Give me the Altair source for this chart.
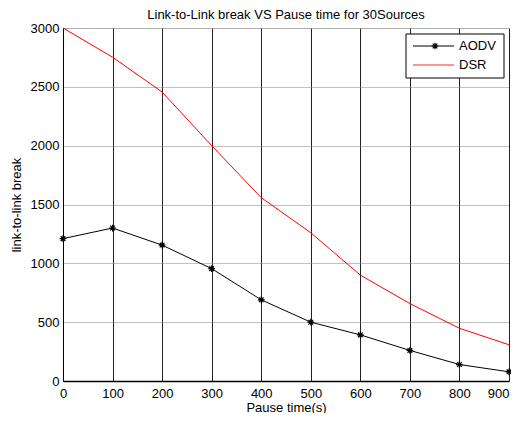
import altair as alt
import pandas as pd

pause = [0, 100, 200, 300, 400, 500, 600, 700, 800, 900]
aodv = [1210, 1300, 1155, 955, 690, 500, 392, 260, 140, 78]
dsr = [3000, 2752, 2456, 2000, 1558, 1260, 900, 658, 448, 308]
series_names = ["AODV", "DSR"]
series_colors = ["#000000", "#ff0000"]
x_ticks = [0, 100, 200, 300, 400, 500, 600, 700, 800, 900]
y_ticks = [0, 500, 1000, 1500, 2000, 2500, 3000]

df = pd.DataFrame({
    "pause": pause + pause,
    "value": aodv + dsr,
    "series": ["AODV"] * len(pause) + ["DSR"] * len(pause),
})

FONT = "Liberation Sans"
ASTER = "M-1,0L1,0M0,-1L0,1M-0.7,-0.7L0.7,0.7M-0.7,0.7L0.7,-0.7"

x_enc = alt.X(
    "pause:Q",
    scale=alt.Scale(domain=[0, 900], nice=False, zero=False),
    axis=alt.Axis(
        values=x_ticks, format="d", title="Pause time(s)", grid=True, gridColor="#222222",
        gridOpacity=1, gridWidth=1, tickSize=0, labelPadding=6, titlePadding=1,
        domainColor="#000000", domainWidth=1.5, labelFont=FONT, labelFontSize=13,
        labelColor="#000000", titleFont=FONT, titleFontSize=13, titleFontWeight="normal",
        titleColor="#000000", labelFlush=False,
        labelAlign=alt.expr("datum.value == 900 ? 'right' : 'center'"),
    ),
)
y_enc = alt.Y(
    "value:Q",
    scale=alt.Scale(domain=[0, 3000], nice=False),
    axis=alt.Axis(
        values=y_ticks, format="d", title="link-to-link break", grid=True, gridColor="#808080",
        gridOpacity=1, gridDash=[1, 1], gridWidth=1, tickSize=0, labelPadding=4,
        titlePadding=7, domainColor="#000000", domainWidth=1, labelFont=FONT,
        labelFontSize=13, labelColor="#000000", titleFont=FONT, titleFontSize=13,
        titleFontWeight="normal", titleColor="#000000", labelFlush=False,
    ),
)
color = alt.Color("series:N", scale=alt.Scale(domain=series_names, range=series_colors), legend=None)

lines = alt.Chart(df).mark_line(strokeWidth=1).encode(
    x=x_enc, y=y_enc, color=color, detail="series:N"
)
points = alt.Chart(df[df.series == "AODV"]).mark_point(
    shape=ASTER, size=45, filled=False, color="#000000", strokeWidth=1.2, opacity=1
).encode(x="pause:Q", y="value:Q")

# legend box
leg_box = alt.Chart(df.head(1)).mark_rect(fill="white", stroke="black", strokeWidth=1).encode(
    x=alt.value(343), x2=alt.value(441), y=alt.value(6), y2=alt.value(50)
)
leg_l1 = alt.Chart(df.head(1)).mark_rule(color="#000000", strokeWidth=1).encode(
    x=alt.value(350), x2=alt.value(391), y=alt.value(18)
)
leg_p1 = alt.Chart(df.head(1)).mark_point(
    shape=ASTER, size=45, filled=False, color="#000000", strokeWidth=1.2, opacity=1
).encode(x=alt.value(372), y=alt.value(18))
leg_l2 = alt.Chart(df.head(1)).mark_rule(color="#ff6f6f", strokeWidth=1.5).encode(
    x=alt.value(350), x2=alt.value(391), y=alt.value(37)
)
leg_t1 = alt.Chart(df.head(1)).mark_text(
    align="left", baseline="middle", font=FONT, fontSize=13, color="#000000"
).encode(x=alt.value(396), y=alt.value(18), text=alt.value(series_names[0]))
leg_t2 = alt.Chart(df.head(1)).mark_text(
    align="left", baseline="middle", font=FONT, fontSize=13, color="#000000"
).encode(x=alt.value(396), y=alt.value(37), text=alt.value(series_names[1]))

chart = alt.layer(lines, points, leg_box, leg_l1, leg_p1, leg_l2, leg_t1, leg_t2).properties(
    width=446, height=353,
    title=alt.TitleParams(
        "Link-to-Link break VS Pause time for 30Sources", font=FONT, fontSize=13,
        fontWeight="normal", color="#000000", anchor="middle", offset=0,
    ),
    autosize=alt.AutoSizeParams(type="none"),
    padding={"left": 55, "top": 20, "right": 2, "bottom": 32},
).configure_view(stroke="#000000", strokeWidth=1).configure(background="white")

chart.save("out.html", embed_options={"renderer": "svg", "actions": False})
